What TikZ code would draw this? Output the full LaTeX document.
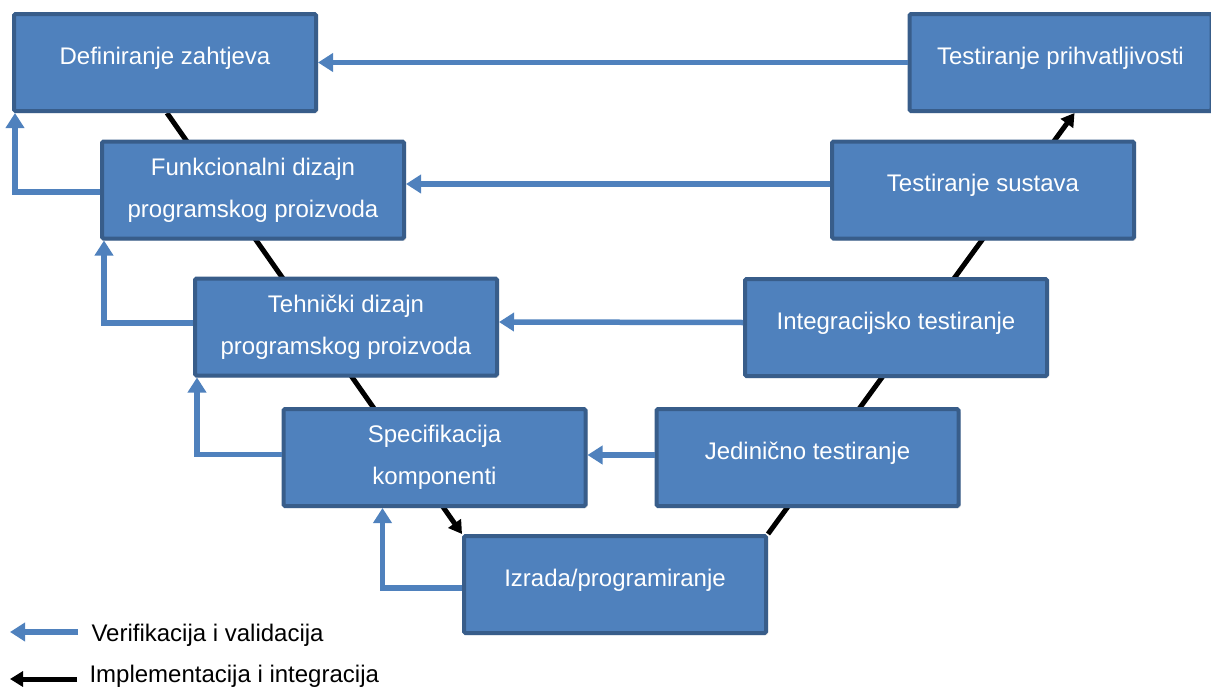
\documentclass[tikz,border=0pt]{standalone}
\usepackage{fontspec}
\setmainfont{Liberation Sans}
\usetikzlibrary{arrows.meta,shadows,backgrounds}
\definecolor{plava}{HTML}{4F81BD}
\definecolor{rub}{HTML}{385D8A}

\begin{document}
\begin{tikzpicture}[x=1pt, y=-1pt,
  etapa/.style={draw=rub, line width=4pt, fill=plava, rounded corners=1.5pt,
    minimum width=302pt, minimum height=97pt, text=white, align=center,
    font=\fontsize{24}{42}\selectfont,
    drop shadow={opacity=0.25, shadow xshift=2pt, shadow yshift=-2pt}},
  jedna/.style={text height=17pt, text depth=13.5pt},
  verif/.style={draw=plava, line width=5.5pt, -{Triangle[length=15pt,width=18pt]}},
  impl/.style={draw=black, line width=5pt, -{Triangle[length=13pt,width=15pt]}},
  legenda/.style={anchor=west, font=\fontsize{24}{28}\selectfont}]
  \useasboundingbox (0,0) rectangle (1211,688);

  % lijeva strana
  \node[etapa, jedna] (def)  at (165,62.5)  {Definiranje zahtjeva};
  \node[etapa] (funk) at (253,190)   {Funkcionalni dizajn\\programskog proizvoda};
  \node[etapa] (tech) at (346,327)   {Tehnički dizajn\\programskog proizvoda};
  \node[etapa] (spec) at (434.5,457.5) {Specifikacija\\komponenti};
  \node[etapa, jedna] (izrada) at (615,584.5) {Izrada/programiranje};
  % desna strana
  \node[etapa, jedna] (jed)   at (807.5,457.5) {Jedinično testiranje};
  \node[etapa, jedna] (integ) at (896,327.5)   {Integracijsko testiranje};
  \node[etapa, jedna] (sust)  at (983,190)     {Testiranje sustava};
  \node[etapa, jedna] (prihv) at (1060.5,62.5) {Testiranje prihvatljivosti};

  % implementacija i integracija
  \begin{scope}[on background layer]
    \draw[impl] ([xshift=155pt]def.south west) -- (izrada.north west);
    \draw[impl] (izrada.north east) -- ([xshift=167pt]prihv.south west);
  \end{scope}

  % verifikacija i validacija
  \draw[verif] (prihv.west) -- (def.east);
  \draw[verif] ([yshift=6pt]sust.west) -- ([yshift=6pt]funk.east);
  \draw[verif] ([yshift=5pt]integ.west) -- ([yshift=5pt]tech.east);
  \draw[verif] ([yshift=2.5pt]jed.west) -- ([yshift=2.5pt]spec.east);
  \draw[verif] ([yshift=-2pt]funk.west) -| ([xshift=3pt]def.south west);
  \draw[verif] ([yshift=4pt]tech.west) -| ([xshift=4pt]funk.south west);
  \draw[verif] ([yshift=3pt]spec.west) -| ([xshift=4pt]tech.south west);
  \draw[verif] ([yshift=-3.5pt]izrada.west) -| ([xshift=101pt]spec.south west);

  % legenda
  \coordinate (vpoc) at (78,632);
  \coordinate (vkraj) at (10,632);
  \draw[verif] (vpoc) -- (vkraj);
  \node[legenda] (vtekst) at (88,635) {Verifikacija i validacija};
  \coordinate (ipoc) at (77,679);
  \coordinate (ikraj) at (10,679);
  \draw[impl] (ipoc) -- (ikraj);
  \node[legenda] (itekst) at (86,676) {Implementacija i integracija};
\end{tikzpicture}
\end{document}
